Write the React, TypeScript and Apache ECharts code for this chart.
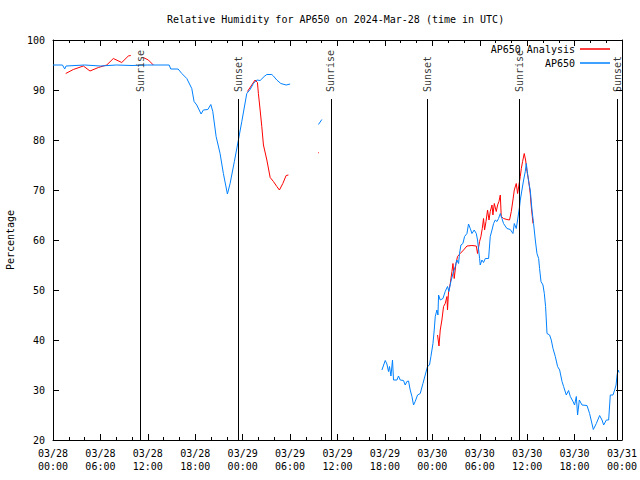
import React, { useEffect, useRef } from "react";
import * as echarts from "echarts";

const titleText = "Relative Humidity for AP650 on 2024-Mar-28 (time in UTC)";
const xTickLabels = [
  "03/28\n00:00", "03/28\n06:00", "03/28\n12:00", "03/28\n18:00",
  "03/29\n00:00", "03/29\n06:00", "03/29\n12:00", "03/29\n18:00",
  "03/30\n00:00", "03/30\n06:00", "03/30\n12:00", "03/30\n18:00",
  "03/31\n00:00",
];

// hours since 03/28 00:00 UTC ; null value = gap
const blueHours = [
  0, 1.2, 1.48, 1.65, 4, 6, 8, 10, 12, 14.7, 14.9, 15.83, 16.3, 16.93, 17.56, 17.85, 18.19, 18.74, 19.03, 19.59,
  19.97, 20.22, 20.64, 21.14, 21.56, 22.07, 22.41, 22.95, 23.46, 23.89, 24.52, 24.94, 25.36, 25.79, 26.21, 26.72,
  27.05, 27.69, 27.89, 28.32, 28.83, 29.5, 30.01,
  31.5,
  33.59, 34.02,
  38,
  41.62, 42.04, 42.25, 42.45, 42.58, 42.76, 42.96, 43.09, 43.52, 43.72, 43.94, 44.35, 44.57, 44.78, 44.99, 45.2,
  45.42, 45.62, 45.83, 46.13, 46.47, 46.81, 47.1, 47.39, 47.64, 47.82, 48.08, 48.24, 48.37, 48.58, 48.71, 48.79,
  49, 49.34, 49.63, 49.92, 50.1, 50.35, 50.61, 50.9, 51.11, 51.32, 51.44, 51.62, 51.87, 52.08, 52.38, 52.58, 52.8,
  53.01, 53.3, 53.56, 53.72, 53.98, 54.06, 54.28, 54.48, 54.7, 55.12, 55.33, 55.55, 55.75, 55.96, 56.18, 56.38,
  56.6, 56.81, 57.01, 57.44, 57.86, 58.2, 58.37, 58.62, 58.79, 59.04, 59.13, 59.34, 59.55, 59.76, 59.89, 60.05,
  60.18, 60.39, 60.61, 60.81, 61.03, 61.24, 61.45, 61.57, 61.75, 62, 62.17, 62.33, 62.51, 62.84, 63.05, 63.27,
  63.56, 63.85, 64.11, 64.41, 64.61, 64.95, 65.24, 65.46, 65.8, 66, 66.22, 66.38, 66.6, 66.94, 67.57, 67.9, 68.37,
  68.75, 69.17, 69.47, 69.68, 70.02, 70.31, 70.52, 70.86, 71.07, 71.25, 71.38, 71.5, 71.63,
];
const blueValues = [
  95, 95, 94.2, 94.8, 95, 94.8, 95, 94.9, 95, 95, 94.2, 94.2, 93.3, 92.3, 90.3, 87.7, 87, 85.2, 86, 86.1,
  87.1, 85.7, 80.7, 77.3, 73.3, 69.2, 71.3, 75.7, 80, 83.7, 89.3, 90.1, 91.3, 92, 91.9, 92.7,
  93.1, 93.1, 92.8, 92, 91.3, 91, 91.2,
  null,
  83.1, 84.1,
  null,
  34, 35.9, 35.2, 33.7, 34.7, 32.8, 36, 32, 32, 32.8, 32, 31.9, 31, 31.7, 31.8, 30,
  28.7, 27, 27.7, 29, 29.3, 31.3, 33, 34.7, 35, 36.7, 39.3, 42, 44.7, 46, 45, 49,
  48, 48.3, 49.7, 50.7, 49.7, 51.7, 53.3, 54.7, 56, 55.3, 57.3, 59, 59.3, 60.7, 61.3, 63.2, 62.3,
  61.3, 62, 61.3, 60, 56.3, 55, 56, 55.5, 56.3, 56.3, 60.7, 62, 63.3, 64, 63.7, 64.3,
  65.3, 64.3, 63.3, 62.3, 62.1, 61.3, 63.3, 62.3, 64, 66.7, 68, 70, 72, 73.7, 75.3, 73.3,
  71.7, 70, 66, 63.3, 60, 57.3, 56.3, 54.3, 51.7, 51, 49.3, 46.7, 41.3, 41, 40, 38.3,
  36.7, 34.7, 34, 31.7, 30.7, 29, 29.9, 28.7, 27.7, 27, 28.7, 25, 28, 27, 26.9, 25.3, 22.1,
  23.3, 24.9, 24, 23, 24, 24, 29, 29, 30, 31, 33, 34, 33.5,
];

const redHours = [
  1.61, 2.57, 3.84, 4.68, 5.74, 6.8, 7.63, 8.7, 9.53, 9.84,
  10.6,
  11.43, 12.07, 12.7,
  18,
  24.6, 25.57, 25.87, 25.99, 26.21, 26.42, 26.63, 27.06, 27.48, 27.89, 28.32, 28.65, 29.08, 29.5, 29.79,
  31.5,
  33.55, 33.65,
  40,
  48.66, 48.84, 49, 49.21, 49.42, 49.63, 49.85, 49.92, 50.05, 50.27, 50.48, 50.61, 50.77, 50.99, 51.19, 51.53,
  51.95, 52.38, 53.01, 53.56, 53.72, 53.98, 54.15, 54.32, 54.48, 54.61, 54.79, 54.99, 55.17, 55.33, 55.55, 55.67,
  55.84, 56.09, 56.26, 56.43, 56.6, 56.72, 57.01, 57.44, 57.77, 57.99, 58.2, 58.37, 58.62, 58.79, 58.96, 59.13,
  59.26, 59.42, 59.63, 59.8, 59.98, 60.18, 60.39, 60.52, 60.65, 60.74,
];
const redValues = [
  93.3, 94.1, 94.8, 93.8, 94.5, 95, 96.3, 95.5, 96.8, 96.9,
  null,
  96.5, 96, 95,
  null,
  89.7, 92, 91.5, 89.3, 86, 82.7, 79, 76, 72.5, 71.7, 70.7, 70, 71.3, 72.9, 73,
  null,
  77.5, 77.4,
  null,
  41, 38.8, 42, 44, 46.7, 47.3, 48.7, 46, 49.7, 51.3, 53.7, 55.3, 52.3, 55.3, 56.7, 57.3,
  58, 58.8, 58.9, 58.8, 57.3, 59.7, 60.7, 62.3, 64.3, 62, 63.7, 66, 64, 65.7, 67, 65,
  67.3, 65.7, 67, 67.7, 69, 64.7, 64.3, 64.1, 64, 65.7, 68, 70, 71.3, 69.3, 71, 72.7,
  74.3, 75.7, 77.3, 76, 73.7, 72, 69.3, 66.7, 64.7, 63.3,
];

const sunHours = [11.01, 23.46, 35.16, 47.39, 59.04, 71.45];
const sunLabels = ["Sunrise", "Sunset", "Sunrise", "Sunset", "Sunrise", "Sunset"];
const sunLineTop = 88.2;

const FONT = "DejaVu Sans Mono";
const RED = "#ff0000";
const BLUE = "#0080ff";

function zip(hs: number[], vs: (number | null)[]) {
  return hs.map((h, i) => [h, vs[i] === null ? null : vs[i]]);
}

export default function App() {
  const ref = useRef<HTMLDivElement>(null);
  useEffect(() => {
    if (!ref.current) return;
    const chart = echarts.init(ref.current, null, { renderer: "svg" });
    const txt = { fontFamily: FONT, fontSize: 10, color: "#000" };
    const xBase = {
      type: "value",
      min: 0,
      max: 72,
      interval: 6,
      splitLine: { show: false },
      axisLine: { show: true, onZero: false, lineStyle: { color: "#000", width: 1 } },
      axisTick: { show: true, inside: true, length: 6, lineStyle: { color: "#000" } },
      minorTick: { show: true, splitNumber: 3, length: 3, lineStyle: { color: "#000" } },
    };
    const yBase = {
      type: "value",
      min: 20,
      max: 100,
      interval: 10,
      splitLine: { show: false },
      axisLine: { show: true, onZero: false, lineStyle: { color: "#000", width: 1 } },
      axisTick: { show: true, inside: true, length: 6, lineStyle: { color: "#000" } },
    };
    const legendBase = {
      right: 25,
      align: "right",
      orient: "vertical",
      icon: "rect",
      itemWidth: 30,
      itemHeight: 1.5,
      textStyle: txt,
    };
    chart.setOption({
      animation: false,
      backgroundColor: "#fff",
      title: {
        text: titleText,
        left: 162,
        top: 9,
        textStyle: { ...txt, fontWeight: "normal" },
      },
      legend: [
        { ...legendBase, data: ["AP650 Analysis"], top: 39 },
        { ...legendBase, data: ["AP650"], top: 53 },
      ],
      grid: {
        left: 53,
        right: 18,
        top: 40,
        bottom: 40,
        containLabel: false,
        outerBoundsMode: "none",
      },
      xAxis: [
        {
          ...xBase,
          position: "bottom",
          axisLabel: {
            ...txt,
            lineHeight: 13,
            margin: 7,
            formatter: (v: number) => xTickLabels[Math.round(v / 6)] ?? "",
          },
        },
        { ...xBase, position: "top", axisLabel: { show: false } },
      ],
      yAxis: [
        {
          ...yBase,
          position: "left",
          name: "Percentage",
          nameLocation: "middle",
          nameRotate: 90,
          nameGap: 38,
          nameTextStyle: txt,
          axisLabel: { ...txt, margin: 8 },
        },
        { ...yBase, position: "right", axisLabel: { show: false } },
      ],
      series: [
        {
          name: "AP650 Analysis",
          type: "line",
          data: zip(redHours, redValues),
          showSymbol: false,
          connectNulls: false,
          color: RED,
          lineStyle: { color: RED, width: 1 },
          z: 3,
        },
        {
          name: "AP650",
          type: "line",
          data: zip(blueHours, blueValues),
          showSymbol: false,
          connectNulls: false,
          color: BLUE,
          lineStyle: { color: BLUE, width: 1 },
          z: 4,
        },
        {
          name: "sun",
          type: "scatter",
          data: sunHours.map((h, i) => ({ value: [h, sunLineTop], name: sunLabels[i] })),
          symbolSize: 0,
          silent: true,
          label: {
            show: true,
            formatter: (p: any) => p.name,
            position: "top",
            distance: 7,
            rotate: 90,
            align: "left",
            verticalAlign: "middle",
            ...txt,
          },
          markLine: {
            silent: true,
            symbol: "none",
            label: { show: false },
            lineStyle: { color: "#000", width: 1, type: "solid" },
            data: sunHours.map((h) => [
              { coord: [h, 20] },
              { coord: [h, sunLineTop] },
            ]),
          },
          z: 5,
        },
      ],
    });
    return () => chart.dispose();
  }, []);
  return <div ref={ref} style={{ width: 640, height: 480, position: "absolute", left: 0, top: 0 }} />;
}
